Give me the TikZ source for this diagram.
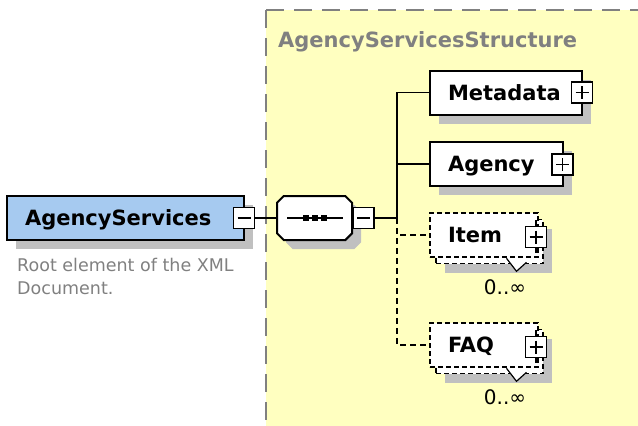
\documentclass[tikz,border=0pt]{standalone}
\usepackage{fontspec}
\setmainfont{DejaVu Sans}
\usetikzlibrary{calc}
\usetikzlibrary{shadows}
\usetikzlibrary{shapes.misc}

\definecolor{structyellow}{RGB}{255,255,192}
\definecolor{rootblue}{RGB}{166,202,240}
\definecolor{shadegray}{RGB}{192,192,192}
\definecolor{labelgray}{RGB}{128,128,128}

\begin{document}
\begin{tikzpicture}[x=1pt, y=-1pt,
        elembox/.style={rectangle, draw, line width=2pt, fill=white, inner xsep=18pt, inner ysep=0pt, minimum height=44pt, align=left, text height=15.3pt, text depth=0pt, font=\fontsize{21}{25}\selectfont\bfseries},
        optbox/.style={elembox, line width=1.6pt, dash pattern=on 5pt off 3pt},
        dropshade/.style={drop shadow={shadow xshift=9pt, shadow yshift=-9pt, opacity=1, fill=shadegray}},
        minusbox/.style={rectangle, draw, line width=1.5pt, fill=white, minimum size=21pt, inner sep=0pt, path picture={\draw[line width=1.5pt] ([xshift=4pt]path picture bounding box.west) -- ([xshift=-4pt]path picture bounding box.east);}},
        plusbox/.style={rectangle, draw, line width=1.5pt, fill=white, minimum size=21pt, inner sep=0pt, path picture={\draw[line width=1.5pt] ([xshift=4pt]path picture bounding box.west) -- ([xshift=-4pt]path picture bounding box.east); \draw[line width=1.5pt] ([yshift=-4pt]path picture bounding box.north) -- ([yshift=4pt]path picture bounding box.south);}},
        countlabel/.style={inner sep=0pt, text height=14.6pt, text depth=0pt, font=\fontsize{20}{24}\selectfont},
        conn/.style={line width=1.6pt},
        optconn/.style={conn, dash pattern=on 6pt off 4pt}]
        \path[use as bounding box] (0,0) rectangle (638,426);
        \clip (0,0) rectangle (638,426);

        % complex type frame
        \fill[structyellow] (266,10) rectangle (660,450);
        \draw[labelgray, line width=2pt, dash pattern=on 18pt off 10pt] (266,10) -- (266,450);
        \draw[labelgray, line width=2pt, dash pattern=on 18pt off 10pt] (266,10) -- (660,10);
        \node[inner sep=0pt, text=labelgray, font=\fontsize{21}{25}\selectfont\bfseries] at (278,47) [anchor=base west] (structname) {AgencyServicesStructure};

        % root element
        \node[text width=201pt] at (125.5,218) [elembox,fill=rootblue,dropshade] (root) {AgencyServices};
        \node at (244,218) [minusbox] (rootminus) {};
        \node[align=left, inner sep=0pt, text=labelgray, font=\fontsize{17.5}{23}\selectfont] at (17,258) [anchor=north west] (rootnote) {Root element of the XML\\Document.};

        % sequence
        \node[minimum width=75pt, minimum height=44pt, chamfered rectangle xsep=9pt, chamfered rectangle ysep=9pt] at (314.5,218) [chamfered rectangle,draw,line width=2pt,fill=white,dropshade] (seq) {};
        \draw[conn] ($(seq.west)+(11,0)$) -- ($(seq.east)+(-10,0)$);
        \foreach \dx in {-9,0,9}
            \fill ($(seq.center)+(\dx-3,-3)$) rectangle +(6,6);
        \node at (363.5,218) [minusbox] (seqminus) {};
        \coordinate (spine) at (397,218);

        % children
        \node[text width=116pt] at (506,92.5) [elembox,dropshade] (meta) {Metadata};
        \node at (582,92.5) [plusbox] (metaplus) {};
        \node[text width=97pt] at (496.5,164) [elembox,dropshade] (agency) {Agency};
        \node at (562.5,164.5) [plusbox] (agencyplus) {};

        \node[minimum width=107pt, minimum height=45pt] at (489.5,241.5) [optbox,dropshade] (itemback) {};
        \node[text width=72pt] at (484,235) [optbox] (item) {Item};
        \draw[line width=1.2pt, fill=white] ($(itemback.south)+(17,-6)$) -- ++(10,13) -- ++(10,-9);
        \node at (536,237) [plusbox] (itemplus) {};
        \draw[line width=1.5pt] (itemplus.north) -- ++(0,-6);
        \draw[line width=1.5pt] (itemplus.south) -- ++(0,5);
        \node at (505,287) [countlabel] (itemcount) {0..∞};

        \node[minimum width=107pt, minimum height=45pt] at (489.5,351.5) [optbox,dropshade] (faqback) {};
        \node[text width=72pt] at (484,345) [optbox] (faq) {FAQ};
        \draw[line width=1.2pt, fill=white] ($(faqback.south)+(17,-6)$) -- ++(10,13) -- ++(10,-9);
        \node at (536,347) [plusbox] (faqplus) {};
        \draw[line width=1.5pt] (faqplus.north) -- ++(0,-6);
        \draw[line width=1.5pt] (faqplus.south) -- ++(0,5);
        \node at (505,397) [countlabel] (faqcount) {0..∞};

        \draw[conn] (rootminus) -- (seq);
        \draw[conn] (seqminus) -- (spine);
        \draw[conn] (spine) |- (meta);
        \draw[conn] (spine) |- (agency);
        \draw[optconn] (spine) |- (item);
        \draw[optconn] (spine) |- (faq);
    \end{tikzpicture}
\end{document}
